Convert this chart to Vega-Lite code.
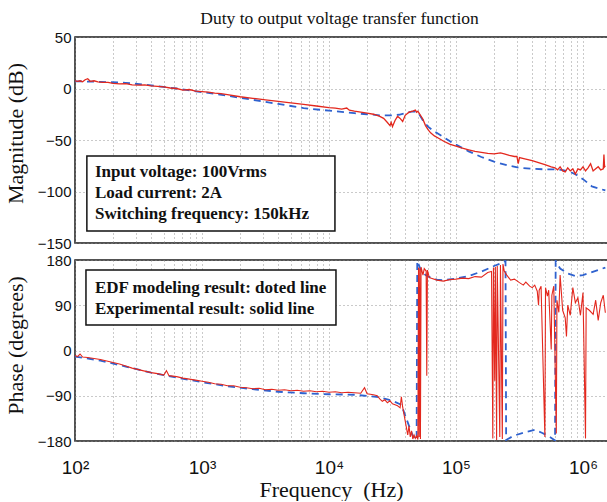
{
  "$schema": "https://vega.github.io/schema/vega-lite/v6.json",
  "background": "white",
  "padding": {"left": 3, "top": 8, "right": 0, "bottom": 0},
  "spacing": 17,
  "bounds": "flush",
  "datasets": {
    "notes": [
      {"panel": "mag", "lines": ["Input voltage: 100Vrms", "Load current: 2A", "Switching frequency: 150kHz"]},
      {"panel": "phase", "lines": ["EDF modeling result: doted line", "Experimental result: solid line"]}
    ],
    "mag": [
      {"s": "model", "f": 100, "v": 7},
      {"s": "model", "f": 158.5, "v": 6.5},
      {"s": "model", "f": 251.2, "v": 5.5},
      {"s": "model", "f": 398.1, "v": 3},
      {"s": "model", "f": 631, "v": 0},
      {"s": "model", "f": 1000, "v": -3.5},
      {"s": "model", "f": 1585, "v": -7},
      {"s": "model", "f": 2512, "v": -11},
      {"s": "model", "f": 3981, "v": -15},
      {"s": "model", "f": 6310, "v": -19},
      {"s": "model", "f": 10000, "v": -21.5},
      {"s": "model", "f": 15850, "v": -24},
      {"s": "model", "f": 19950, "v": -25},
      {"s": "model", "f": 25120, "v": -26},
      {"s": "model", "f": 31620, "v": -26},
      {"s": "model", "f": 35480, "v": -25.5},
      {"s": "model", "f": 39810, "v": -24},
      {"s": "model", "f": 44670, "v": -22.5},
      {"s": "model", "f": 47860, "v": -22.5},
      {"s": "model", "f": 51290, "v": -25},
      {"s": "model", "f": 54950, "v": -31},
      {"s": "model", "f": 60260, "v": -37},
      {"s": "model", "f": 66070, "v": -41},
      {"s": "model", "f": 72440, "v": -44},
      {"s": "model", "f": 79430, "v": -47},
      {"s": "model", "f": 89130, "v": -51},
      {"s": "model", "f": 100000, "v": -54.5},
      {"s": "model", "f": 125900, "v": -61},
      {"s": "model", "f": 158500, "v": -66.5},
      {"s": "model", "f": 199500, "v": -71},
      {"s": "model", "f": 251200, "v": -74.5},
      {"s": "model", "f": 316200, "v": -77},
      {"s": "model", "f": 398100, "v": -78},
      {"s": "model", "f": 501200, "v": -78.5},
      {"s": "model", "f": 631000, "v": -78.5},
      {"s": "model", "f": 707900, "v": -79.5},
      {"s": "model", "f": 794300, "v": -81},
      {"s": "model", "f": 891300, "v": -84},
      {"s": "model", "f": 1000000, "v": -88},
      {"s": "model", "f": 1175000, "v": -95},
      {"s": "model", "f": 1500000, "v": -99},
      {"s": "measured", "f": 100, "v": 7.5},
      {"s": "measured", "f": 104.7, "v": 7},
      {"s": "measured", "f": 109.6, "v": 7.5},
      {"s": "measured", "f": 114.8, "v": 6.5},
      {"s": "measured", "f": 120.2, "v": 8.5},
      {"s": "measured", "f": 125.9, "v": 9.5},
      {"s": "measured", "f": 131.8, "v": 7},
      {"s": "measured", "f": 141.3, "v": 7.5},
      {"s": "measured", "f": 151.4, "v": 6.5},
      {"s": "measured", "f": 166, "v": 6},
      {"s": "measured", "f": 182, "v": 6},
      {"s": "measured", "f": 199.5, "v": 5},
      {"s": "measured", "f": 223.9, "v": 4.5},
      {"s": "measured", "f": 251.2, "v": 4.8},
      {"s": "measured", "f": 281.8, "v": 3.5},
      {"s": "measured", "f": 316.2, "v": 3.2},
      {"s": "measured", "f": 354.8, "v": 3.5},
      {"s": "measured", "f": 398.1, "v": 2.5},
      {"s": "measured", "f": 446.7, "v": 2},
      {"s": "measured", "f": 501.2, "v": 1.5},
      {"s": "measured", "f": 562.3, "v": 0.5},
      {"s": "measured", "f": 631, "v": 0},
      {"s": "measured", "f": 707.9, "v": -1.5},
      {"s": "measured", "f": 794.3, "v": -1},
      {"s": "measured", "f": 891.3, "v": -2.5},
      {"s": "measured", "f": 1000, "v": -3},
      {"s": "measured", "f": 1122, "v": -3.5},
      {"s": "measured", "f": 1259, "v": -4.5},
      {"s": "measured", "f": 1413, "v": -5},
      {"s": "measured", "f": 1585, "v": -6},
      {"s": "measured", "f": 1995, "v": -8},
      {"s": "measured", "f": 2512, "v": -9.5},
      {"s": "measured", "f": 3162, "v": -11},
      {"s": "measured", "f": 3981, "v": -12.5},
      {"s": "measured", "f": 5012, "v": -14},
      {"s": "measured", "f": 6310, "v": -15.5},
      {"s": "measured", "f": 7943, "v": -17},
      {"s": "measured", "f": 10000, "v": -18.5},
      {"s": "measured", "f": 11220, "v": -19},
      {"s": "measured", "f": 12590, "v": -20},
      {"s": "measured", "f": 13800, "v": -19},
      {"s": "measured", "f": 14450, "v": -21},
      {"s": "measured", "f": 15850, "v": -22},
      {"s": "measured", "f": 19950, "v": -24},
      {"s": "measured", "f": 22390, "v": -25},
      {"s": "measured", "f": 25120, "v": -27},
      {"s": "measured", "f": 26920, "v": -29},
      {"s": "measured", "f": 28840, "v": -33},
      {"s": "measured", "f": 30200, "v": -36},
      {"s": "measured", "f": 30900, "v": -33},
      {"s": "measured", "f": 31620, "v": -37},
      {"s": "measured", "f": 33110, "v": -31},
      {"s": "measured", "f": 34670, "v": -27},
      {"s": "measured", "f": 36310, "v": -29},
      {"s": "measured", "f": 38020, "v": -32},
      {"s": "measured", "f": 39810, "v": -26},
      {"s": "measured", "f": 42660, "v": -23},
      {"s": "measured", "f": 45710, "v": -22},
      {"s": "measured", "f": 47860, "v": -21},
      {"s": "measured", "f": 48980, "v": -23},
      {"s": "measured", "f": 50120, "v": -22},
      {"s": "measured", "f": 52480, "v": -26},
      {"s": "measured", "f": 54950, "v": -30},
      {"s": "measured", "f": 57540, "v": -36},
      {"s": "measured", "f": 60260, "v": -40},
      {"s": "measured", "f": 63100, "v": -43},
      {"s": "measured", "f": 67610, "v": -46},
      {"s": "measured", "f": 72440, "v": -48},
      {"s": "measured", "f": 79430, "v": -51},
      {"s": "measured", "f": 89130, "v": -54},
      {"s": "measured", "f": 100000, "v": -56},
      {"s": "measured", "f": 112200, "v": -58},
      {"s": "measured", "f": 125900, "v": -59.5},
      {"s": "measured", "f": 141300, "v": -61},
      {"s": "measured", "f": 158500, "v": -62},
      {"s": "measured", "f": 177800, "v": -63},
      {"s": "measured", "f": 199500, "v": -63.5},
      {"s": "measured", "f": 223900, "v": -62.5},
      {"s": "measured", "f": 239900, "v": -63.5},
      {"s": "measured", "f": 263000, "v": -65},
      {"s": "measured", "f": 288400, "v": -66},
      {"s": "measured", "f": 302000, "v": -66},
      {"s": "measured", "f": 309000, "v": -73},
      {"s": "measured", "f": 316200, "v": -67},
      {"s": "measured", "f": 354800, "v": -68.5},
      {"s": "measured", "f": 398100, "v": -70},
      {"s": "measured", "f": 446700, "v": -72},
      {"s": "measured", "f": 501200, "v": -74},
      {"s": "measured", "f": 562300, "v": -76},
      {"s": "measured", "f": 602600, "v": -77},
      {"s": "measured", "f": 631000, "v": -79},
      {"s": "measured", "f": 660700, "v": -76},
      {"s": "measured", "f": 691800, "v": -80},
      {"s": "measured", "f": 724400, "v": -81},
      {"s": "measured", "f": 758600, "v": -77},
      {"s": "measured", "f": 794300, "v": -80},
      {"s": "measured", "f": 831800, "v": -78},
      {"s": "measured", "f": 871000, "v": -83},
      {"s": "measured", "f": 912000, "v": -78},
      {"s": "measured", "f": 955000, "v": -79},
      {"s": "measured", "f": 1000000, "v": -76},
      {"s": "measured", "f": 1047000, "v": -80},
      {"s": "measured", "f": 1096000, "v": -77},
      {"s": "measured", "f": 1148000, "v": -73},
      {"s": "measured", "f": 1202000, "v": -80},
      {"s": "measured", "f": 1259000, "v": -78},
      {"s": "measured", "f": 1318000, "v": -76},
      {"s": "measured", "f": 1380000, "v": -79},
      {"s": "measured", "f": 1445000, "v": -78},
      {"s": "measured", "f": 1462000, "v": -64},
      {"s": "measured", "f": 1479000, "v": -76},
      {"s": "measured", "f": 1500000, "v": -75}
    ],
    "phase": [
      {"s": "model", "f": 100, "v": -12},
      {"s": "model", "f": 158.5, "v": -20},
      {"s": "model", "f": 251.2, "v": -32},
      {"s": "model", "f": 398.1, "v": -44},
      {"s": "model", "f": 631, "v": -54},
      {"s": "model", "f": 1000, "v": -63},
      {"s": "model", "f": 1585, "v": -71},
      {"s": "model", "f": 2512, "v": -77},
      {"s": "model", "f": 3981, "v": -82},
      {"s": "model", "f": 6310, "v": -85},
      {"s": "model", "f": 10000, "v": -87},
      {"s": "model", "f": 15850, "v": -88},
      {"s": "model", "f": 25120, "v": -93},
      {"s": "model", "f": 31620, "v": -100},
      {"s": "model", "f": 37150, "v": -108},
      {"s": "model", "f": 41690, "v": -143},
      {"s": "model", "f": 45710, "v": -170},
      {"s": "model", "f": 48980, "v": -178},
      {"s": "model", "f": 49550, "v": 178},
      {"s": "model", "f": 52480, "v": 162},
      {"s": "model", "f": 57540, "v": 150},
      {"s": "model", "f": 63100, "v": 145},
      {"s": "model", "f": 70790, "v": 141},
      {"s": "model", "f": 79430, "v": 140},
      {"s": "model", "f": 100000, "v": 143},
      {"s": "model", "f": 125900, "v": 148},
      {"s": "model", "f": 158500, "v": 157},
      {"s": "model", "f": 199500, "v": 168},
      {"s": "model", "f": 234400, "v": 175},
      {"s": "model", "f": 245500, "v": 178},
      {"s": "model", "f": 248300, "v": -178},
      {"s": "model", "f": 281800, "v": -170},
      {"s": "model", "f": 354800, "v": -162},
      {"s": "model", "f": 416900, "v": -158},
      {"s": "model", "f": 478600, "v": -164},
      {"s": "model", "f": 549500, "v": -172},
      {"s": "model", "f": 602600, "v": -179},
      {"s": "model", "f": 609500, "v": 178},
      {"s": "model", "f": 660700, "v": 163},
      {"s": "model", "f": 758600, "v": 153},
      {"s": "model", "f": 871000, "v": 148},
      {"s": "model", "f": 1000000, "v": 150},
      {"s": "model", "f": 1148000, "v": 155},
      {"s": "model", "f": 1318000, "v": 160},
      {"s": "model", "f": 1500000, "v": 165},
      {"s": "measured", "f": 100, "v": -10},
      {"s": "measured", "f": 104.7, "v": -12},
      {"s": "measured", "f": 109.6, "v": -7},
      {"s": "measured", "f": 114.8, "v": -13},
      {"s": "measured", "f": 125.9, "v": -14},
      {"s": "measured", "f": 141.3, "v": -16},
      {"s": "measured", "f": 158.5, "v": -18},
      {"s": "measured", "f": 177.8, "v": -21},
      {"s": "measured", "f": 199.5, "v": -24},
      {"s": "measured", "f": 223.9, "v": -27},
      {"s": "measured", "f": 251.2, "v": -31},
      {"s": "measured", "f": 281.8, "v": -35},
      {"s": "measured", "f": 316.2, "v": -38},
      {"s": "measured", "f": 354.8, "v": -41},
      {"s": "measured", "f": 398.1, "v": -44},
      {"s": "measured", "f": 446.7, "v": -46},
      {"s": "measured", "f": 501.2, "v": -49},
      {"s": "measured", "f": 524.8, "v": -40},
      {"s": "measured", "f": 549.5, "v": -50},
      {"s": "measured", "f": 631, "v": -52},
      {"s": "measured", "f": 707.9, "v": -55},
      {"s": "measured", "f": 794.3, "v": -57},
      {"s": "measured", "f": 891.3, "v": -59},
      {"s": "measured", "f": 1000, "v": -61},
      {"s": "measured", "f": 1122, "v": -63},
      {"s": "measured", "f": 1259, "v": -66},
      {"s": "measured", "f": 1413, "v": -67},
      {"s": "measured", "f": 1585, "v": -70},
      {"s": "measured", "f": 1778, "v": -70},
      {"s": "measured", "f": 1995, "v": -73},
      {"s": "measured", "f": 2239, "v": -74},
      {"s": "measured", "f": 2512, "v": -76},
      {"s": "measured", "f": 2818, "v": -75},
      {"s": "measured", "f": 3162, "v": -78},
      {"s": "measured", "f": 3548, "v": -77},
      {"s": "measured", "f": 3981, "v": -79},
      {"s": "measured", "f": 4467, "v": -78},
      {"s": "measured", "f": 5012, "v": -80},
      {"s": "measured", "f": 5623, "v": -79},
      {"s": "measured", "f": 6310, "v": -81},
      {"s": "measured", "f": 7079, "v": -80},
      {"s": "measured", "f": 7943, "v": -82},
      {"s": "measured", "f": 8913, "v": -81},
      {"s": "measured", "f": 10000, "v": -83},
      {"s": "measured", "f": 11220, "v": -82},
      {"s": "measured", "f": 12590, "v": -84},
      {"s": "measured", "f": 14130, "v": -83},
      {"s": "measured", "f": 15850, "v": -84},
      {"s": "measured", "f": 17780, "v": -85},
      {"s": "measured", "f": 19050, "v": -74},
      {"s": "measured", "f": 19950, "v": -86},
      {"s": "measured", "f": 22390, "v": -88},
      {"s": "measured", "f": 23990, "v": -90},
      {"s": "measured", "f": 25120, "v": -96},
      {"s": "measured", "f": 26300, "v": -101},
      {"s": "measured", "f": 27540, "v": -98},
      {"s": "measured", "f": 28840, "v": -104},
      {"s": "measured", "f": 30200, "v": -100},
      {"s": "measured", "f": 31620, "v": -106},
      {"s": "measured", "f": 33110, "v": -108},
      {"s": "measured", "f": 34670, "v": -110},
      {"s": "measured", "f": 36310, "v": -114},
      {"s": "measured", "f": 37150, "v": -92},
      {"s": "measured", "f": 38020, "v": -112},
      {"s": "measured", "f": 39810, "v": -140},
      {"s": "measured", "f": 41690, "v": -168},
      {"s": "measured", "f": 42660, "v": -150},
      {"s": "measured", "f": 43650, "v": -172},
      {"s": "measured", "f": 44670, "v": -160},
      {"s": "measured", "f": 45710, "v": -176},
      {"s": "measured", "f": 46770, "v": -168},
      {"s": "measured", "f": 47860, "v": -175},
      {"s": "measured", "f": 48980, "v": -170},
      {"s": "measured", "f": 50120, "v": -177},
      {"s": "measured", "f": 50700, "v": 165},
      {"s": "measured", "f": 51290, "v": -172},
      {"s": "measured", "f": 51880, "v": 163},
      {"s": "measured", "f": 52480, "v": -176},
      {"s": "measured", "f": 53090, "v": 166},
      {"s": "measured", "f": 54950, "v": 150},
      {"s": "measured", "f": 56230, "v": 163},
      {"s": "measured", "f": 58210, "v": 158},
      {"s": "measured", "f": 58880, "v": -50},
      {"s": "measured", "f": 59570, "v": 160},
      {"s": "measured", "f": 61660, "v": 145},
      {"s": "measured", "f": 63100, "v": 144},
      {"s": "measured", "f": 70790, "v": 140},
      {"s": "measured", "f": 79430, "v": 138},
      {"s": "measured", "f": 89130, "v": 141},
      {"s": "measured", "f": 100000, "v": 142},
      {"s": "measured", "f": 112200, "v": 144},
      {"s": "measured", "f": 125900, "v": 143},
      {"s": "measured", "f": 141300, "v": 147},
      {"s": "measured", "f": 158500, "v": 146},
      {"s": "measured", "f": 177800, "v": 155},
      {"s": "measured", "f": 190500, "v": 157},
      {"s": "measured", "f": 195000, "v": -175},
      {"s": "measured", "f": 197200, "v": 165},
      {"s": "measured", "f": 201800, "v": -60},
      {"s": "measured", "f": 204200, "v": 166},
      {"s": "measured", "f": 208900, "v": -178},
      {"s": "measured", "f": 211300, "v": 168},
      {"s": "measured", "f": 221300, "v": -172},
      {"s": "measured", "f": 223900, "v": 170},
      {"s": "measured", "f": 231700, "v": -176},
      {"s": "measured", "f": 234400, "v": 172},
      {"s": "measured", "f": 239900, "v": 158},
      {"s": "measured", "f": 251200, "v": 150},
      {"s": "measured", "f": 269200, "v": 140},
      {"s": "measured", "f": 288400, "v": 142},
      {"s": "measured", "f": 316200, "v": 135},
      {"s": "measured", "f": 338800, "v": 130},
      {"s": "measured", "f": 354800, "v": 136},
      {"s": "measured", "f": 380200, "v": 128},
      {"s": "measured", "f": 398100, "v": 125},
      {"s": "measured", "f": 416900, "v": 130},
      {"s": "measured", "f": 436500, "v": 118},
      {"s": "measured", "f": 446700, "v": 90},
      {"s": "measured", "f": 451900, "v": 120},
      {"s": "measured", "f": 467700, "v": 128},
      {"s": "measured", "f": 501200, "v": -172},
      {"s": "measured", "f": 507000, "v": 125},
      {"s": "measured", "f": 524800, "v": 108},
      {"s": "measured", "f": 537000, "v": 120},
      {"s": "measured", "f": 562300, "v": 2},
      {"s": "measured", "f": 568800, "v": 110},
      {"s": "measured", "f": 588800, "v": 128},
      {"s": "measured", "f": 616600, "v": -165},
      {"s": "measured", "f": 623700, "v": 100},
      {"s": "measured", "f": 645700, "v": 76},
      {"s": "measured", "f": 660700, "v": 150},
      {"s": "measured", "f": 691800, "v": 80},
      {"s": "measured", "f": 724400, "v": 65},
      {"s": "measured", "f": 741300, "v": 28},
      {"s": "measured", "f": 758600, "v": 90},
      {"s": "measured", "f": 794300, "v": 70},
      {"s": "measured", "f": 831800, "v": 125},
      {"s": "measured", "f": 871000, "v": 95},
      {"s": "measured", "f": 912000, "v": 105},
      {"s": "measured", "f": 955000, "v": 70},
      {"s": "measured", "f": 1000000, "v": 115},
      {"s": "measured", "f": 1047000, "v": -175},
      {"s": "measured", "f": 1059000, "v": 85},
      {"s": "measured", "f": 1122000, "v": 80},
      {"s": "measured", "f": 1202000, "v": 72},
      {"s": "measured", "f": 1259000, "v": 100},
      {"s": "measured", "f": 1318000, "v": 60},
      {"s": "measured", "f": 1380000, "v": 95},
      {"s": "measured", "f": 1445000, "v": 110},
      {"s": "measured", "f": 1500000, "v": 75}
    ]
  },
  "vconcat": [
    {
      "width": 533,
      "height": 206,
      "title": {"text": "Duty to output voltage transfer function", "font": "Liberation Serif", "fontSize": 17.5, "fontWeight": "normal", "color": "#111", "anchor": "middle", "offset": 3, "dx": -2},
      "layer": [
        {
          "data": {"name": "mag"},
          "transform": [{"filter": "datum.s == 'model'"}],
          "mark": {"type": "line", "color": "#2f62cf", "strokeWidth": 1.8, "strokeDash": [7, 5], "clip": true},
          "encoding": {
            "x": {
              "field": "f", "type": "quantitative",
              "scale": {"type": "log", "domain": [100, 1574000], "nice": false},
              "axis": {"title": null, "labels": false,
                "values": [100, 200, 300, 400, 500, 600, 700, 800, 900, 1000, 2000, 3000, 4000, 5000, 6000, 7000, 8000, 9000, 10000, 20000, 30000, 40000, 50000, 60000, 70000, 80000, 90000, 100000, 200000, 300000, 400000, 500000, 600000, 700000, 800000, 900000, 1000000]}
            },
            "y": {
              "field": "v", "type": "quantitative",
              "scale": {"domain": [-150, 50], "nice": false, "zero": false},
              "axis": {"title": "Magnitude (dB)", "values": [-150, -100, -50, 0, 50], "labelFontSize": 15, "labelPadding": 4, "titleFontSize": 22, "titlePadding": 10, "titleY": 96}
            }
          }
        },
        {
          "data": {"name": "mag"},
          "transform": [{"filter": "datum.s == 'measured'"}],
          "mark": {"type": "line", "color": "#e3281e", "strokeWidth": 1.3, "clip": true},
          "encoding": {
            "x": {"field": "f", "type": "quantitative"},
            "y": {"field": "v", "type": "quantitative"}
          }
        },
        {
          "data": {"name": "notes"},
          "transform": [{"filter": "datum.panel == 'mag'"}],
          "mark": {"type": "rect", "fill": "white", "stroke": "#111", "strokeWidth": 1.5},
          "encoding": {
            "x": {"datum": 124, "type": "quantitative"},
            "x2": {"datum": 11140},
            "y": {"datum": -65.5, "type": "quantitative"},
            "y2": {"datum": -138.3}
          }
        },
        {
          "data": {"name": "notes"},
          "transform": [{"filter": "datum.panel == 'mag'"}],
          "mark": {"type": "text", "font": "Liberation Serif", "fontWeight": "bold", "fontSize": 17, "lineHeight": 21, "align": "left", "baseline": "middle", "color": "#111"},
          "encoding": {
            "text": {"field": "lines"},
            "x": {"datum": 143.6, "type": "quantitative"},
            "y": {"datum": -81.1, "type": "quantitative"}
          }
        }
      ]
    },
    {
      "width": 533,
      "height": 181,
      "layer": [
        {
          "data": {"name": "phase"},
          "transform": [{"filter": "datum.s == 'model'"}],
          "mark": {"type": "line", "color": "#2f62cf", "strokeWidth": 1.8, "strokeDash": [7, 5], "clip": true},
          "encoding": {
            "x": {
              "field": "f", "type": "quantitative",
              "scale": {"type": "log", "domain": [100, 1574000], "nice": false},
              "axis": {"title": "Frequency\u00a0 (Hz)", "titleFontSize": 22, "titlePadding": 2, "titleX": 256,
                "labelFontSize": 19, "labelPadding": 17, "labelDx": 3, "labelFlush": false, "labelOverlap": false,
                "labelExpr": "datum.value == 100 ? '10²' : datum.value == 1000 ? '10³' : datum.value == 10000 ? '10⁴' : datum.value == 100000 ? '10⁵' : datum.value == 1000000 ? '10⁶' : ''",
                "values": [100, 200, 300, 400, 500, 600, 700, 800, 900, 1000, 2000, 3000, 4000, 5000, 6000, 7000, 8000, 9000, 10000, 20000, 30000, 40000, 50000, 60000, 70000, 80000, 90000, 100000, 200000, 300000, 400000, 500000, 600000, 700000, 800000, 900000, 1000000]}
            },
            "y": {
              "field": "v", "type": "quantitative",
              "scale": {"domain": [-180, 180], "nice": false, "zero": false},
              "axis": {"title": "Phase (degrees)", "values": [-180, -90, 0, 90, 180], "labelFontSize": 15, "labelPadding": 4, "titleFontSize": 22, "titlePadding": 10, "titleY": 85}
            }
          }
        },
        {
          "data": {"name": "phase"},
          "transform": [{"filter": "datum.s == 'measured'"}],
          "mark": {"type": "line", "color": "#e3281e", "strokeWidth": 1.1, "clip": true},
          "encoding": {
            "x": {"field": "f", "type": "quantitative"},
            "y": {"field": "v", "type": "quantitative"}
          }
        },
        {
          "data": {"name": "notes"},
          "transform": [{"filter": "datum.panel == 'phase'"}],
          "mark": {"type": "rect", "fill": "white", "stroke": "#111", "strokeWidth": 1.5},
          "encoding": {
            "x": {"datum": 122, "type": "quantitative"},
            "x2": {"datum": 11350},
            "y": {"datum": 160.1, "type": "quantitative"},
            "y2": {"datum": 50.7}
          }
        },
        {
          "data": {"name": "notes"},
          "transform": [{"filter": "datum.panel == 'phase'"}],
          "mark": {"type": "text", "font": "Liberation Serif", "fontWeight": "bold", "fontSize": 17, "lineHeight": 21, "align": "left", "baseline": "middle", "color": "#111"},
          "encoding": {
            "text": {"field": "lines"},
            "x": {"datum": 143.6, "type": "quantitative"},
            "y": {"datum": 124.3, "type": "quantitative"}
          }
        }
      ]
    }
  ],
  "config": {
    "view": {"stroke": "#1a1a1a", "strokeWidth": 1.5},
    "axis": {
      "grid": true, "gridColor": "#8a8a8a", "gridDash": [1, 3], "gridWidth": 1, "gridOpacity": 0.9,
      "domain": false, "ticks": false,
      "labelFont": "Liberation Sans", "labelColor": "#111",
      "titleFont": "Liberation Serif", "titleFontWeight": "normal", "titleColor": "#111"
    }
  }
}
